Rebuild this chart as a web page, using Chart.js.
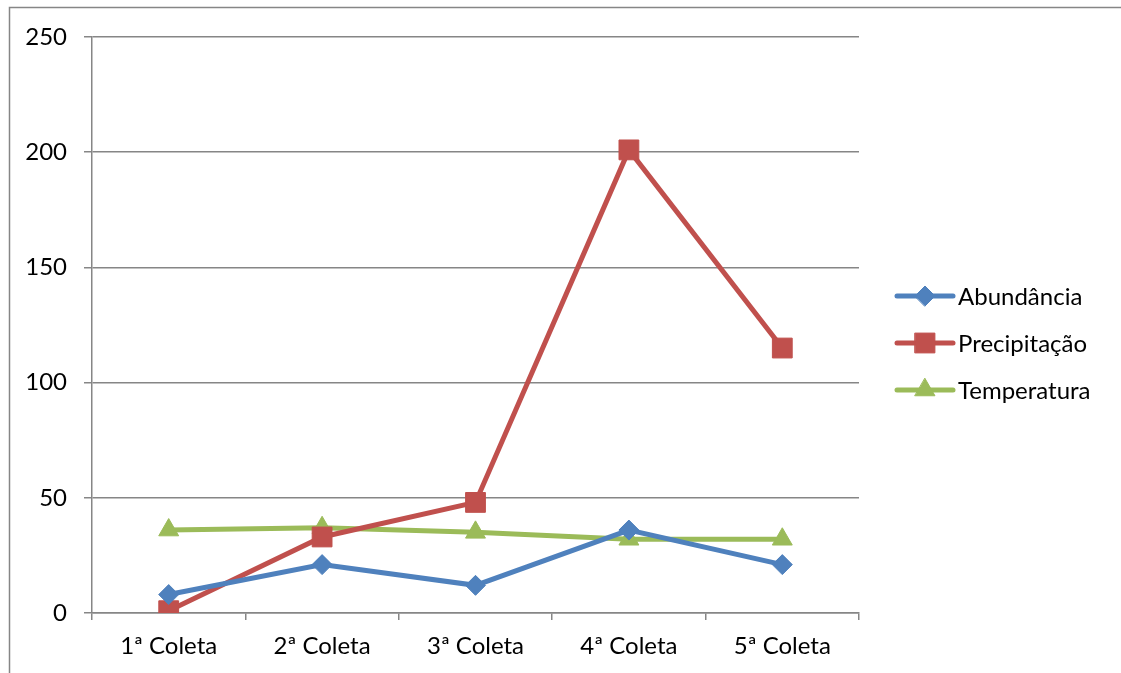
<!DOCTYPE html>
<html>
<head>
<meta charset="utf-8">
<script src="https://cdn.jsdelivr.net/npm/chart.js@4"></script>
<style>
  html, body { margin: 0; padding: 0; background: #fff; }
  #wrap { width: 1121px; height: 673px; }
</style>
</head>
<body>
<div id="wrap"><canvas id="chart" width="1121" height="673"></canvas></div>
<script>
// data
const coletas = ['1ª Coleta', '2ª Coleta', '3ª Coleta', '4ª Coleta', '5ª Coleta'];
const abundancia = [8, 21, 12, 36, 21];
const precipitacao = [1, 33, 48, 201, 115];
const temperatura = [36, 37, 35, 32, 32];
const yTicks = [0, 50, 100, 150, 200, 250];

const axisGray = '#868686';

Chart.defaults.font.family = 'Lato, "Open Sans", sans-serif';
Chart.defaults.font.size = 24;
Chart.defaults.color = '#000';

// outer frame of the chart object (cut off on right and bottom)
const framePlugin = {
    id: 'frame',
    beforeDraw(chart) {
        const ctx = chart.ctx;
        ctx.save();
        ctx.fillStyle = '#fff';
        ctx.fillRect(0, 0, chart.width, chart.height);
        ctx.strokeStyle = axisGray;
        ctx.lineWidth = 1.5;
        ctx.strokeRect(9.5, 7.5, 3000, 3000);
        ctx.restore();
    }
};

// legend with line + marker like the office chart
const legendPlugin = {
    id: 'lineLegend',
    afterDraw(chart) {
        const ctx = chart.ctx;
        const x0 = 897, x1 = 953, startY = 296, gap = 47;
        chart.data.datasets.forEach((ds, i) => {
            const y = startY + i * gap;
            ctx.save();
            ctx.strokeStyle = ds.borderColor;
            ctx.lineWidth = ds.borderWidth;
            ctx.lineCap = 'round';
            ctx.beginPath();
            ctx.moveTo(x0, y);
            ctx.lineTo(x1, y);
            ctx.stroke();
            ctx.fillStyle = ds.pointBackgroundColor;
            ctx.strokeStyle = ds.pointBorderColor;
            ctx.lineWidth = 1;
            Chart.helpers.drawPoint(ctx, {
                pointStyle: ds.pointStyle,
                radius: ds.pointRadius,
                borderWidth: 1
            }, (x0 + x1) / 2, y);
            ctx.fillStyle = '#000';
            ctx.font = '24px ' + Chart.defaults.font.family;
            ctx.textBaseline = 'middle';
            ctx.textAlign = 'left';
            ctx.fillText(ds.label, x1 + 5, y + 1);
            ctx.restore();
        });
    }
};

function series(label, data, color, style, radius) {
    return {
        label: label,
        data: data,
        borderColor: color,
        backgroundColor: color,
        borderWidth: 5,
        pointStyle: style,
        pointRadius: radius,
        pointHoverRadius: radius,
        pointBackgroundColor: color,
        pointBorderColor: color,
        pointBorderWidth: 1,
        tension: 0
    };
}

new Chart(document.getElementById('chart'), {
    type: 'line',
    data: {
        labels: coletas,
        datasets: [
            series('Abundância', abundancia, '#4F81BD', 'rectRot', 10),
            series('Precipitação', precipitacao, '#C0504D', 'rect', 14),
            series('Temperatura', temperatura, '#9BBB59', 'triangle', 11.5)
        ]
    },
    options: {
        responsive: false,
        animation: false,
        layout: {
            padding: { left: 0, top: 37, right: 262, bottom: 0 }
        },
        plugins: {
            legend: { display: false },
            tooltip: { enabled: false }
        },
        scales: {
            x: {
                offset: true,
                grid: {
                    offset: true,
                    drawOnChartArea: false,
                    drawTicks: true,
                    tickLength: 7,
                    color: axisGray,
                    lineWidth: 1.5
                },
                border: { color: axisGray, width: 1.5 },
                ticks: { padding: 12, maxRotation: 0 },
                afterFit(scale) { scale.height = 60; }
            },
            y: {
                min: 0,
                max: 250,
                afterBuildTicks(scale) {
                    scale.ticks = yTicks.map(v => ({ value: v }));
                },
                grid: {
                    color: axisGray,
                    lineWidth: 1.5,
                    tickLength: 8
                },
                border: { color: axisGray, width: 1.5 },
                ticks: { padding: 17 },
                afterFit(scale) { scale.width = 92; }
            }
        }
    },
    plugins: [framePlugin, legendPlugin]
});
</script>
</body>
</html>
